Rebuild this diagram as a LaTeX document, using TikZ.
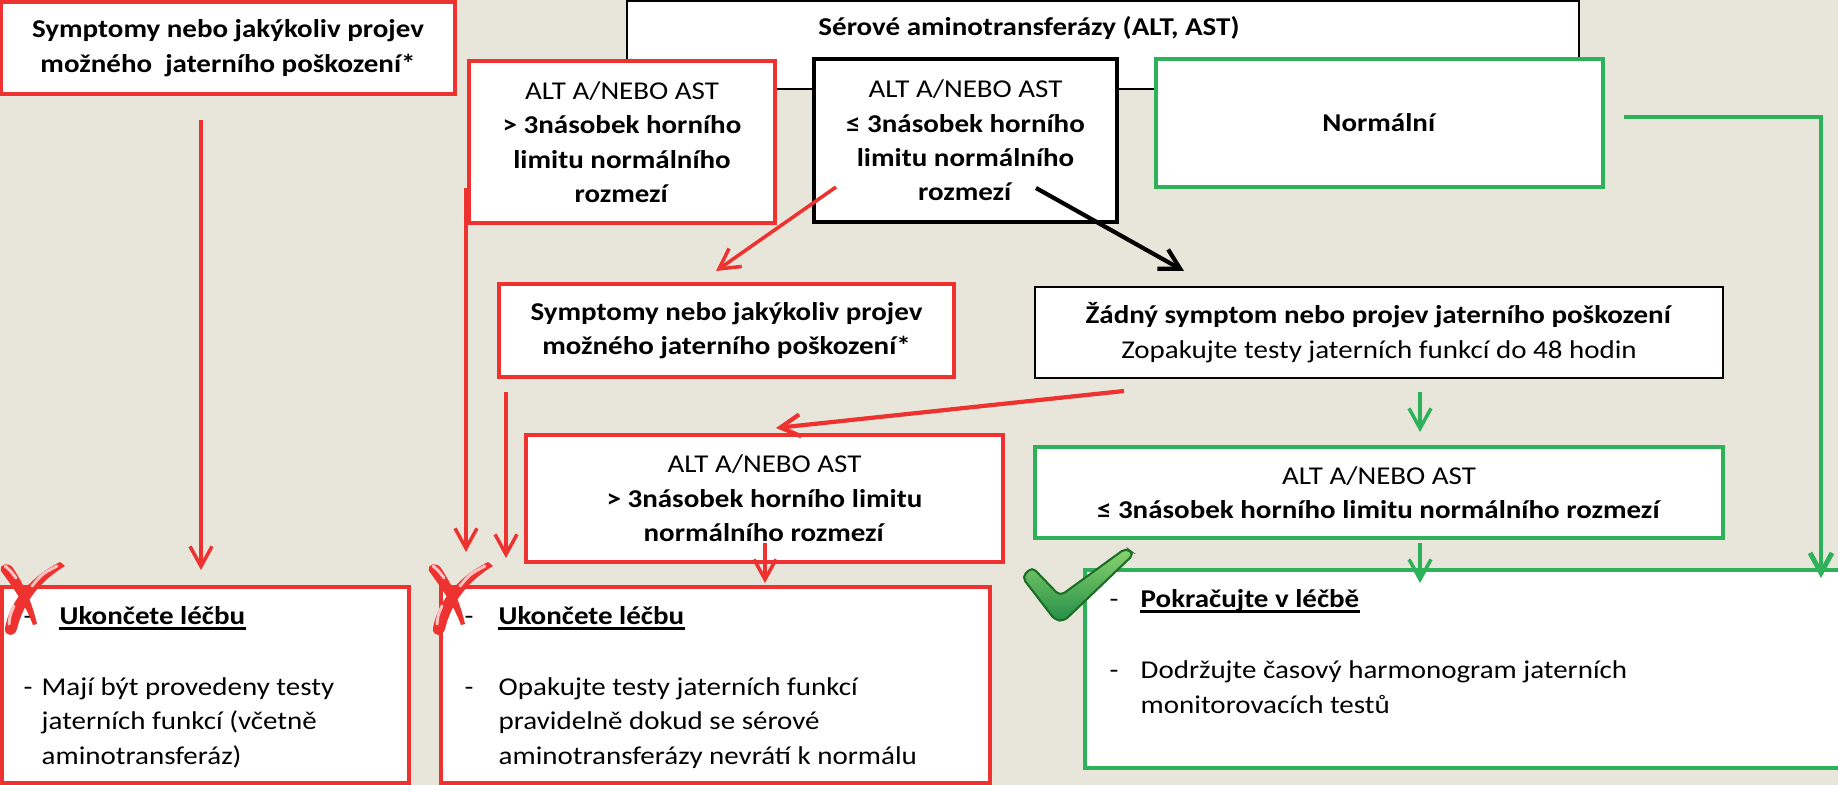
\documentclass[tikz,border=0pt]{standalone}
\usepackage{fontspec}
\setmainfont{Carlito}[FakeStretch=1.13]
\usetikzlibrary{arrows.meta,positioning}
\definecolor{pagebg}{RGB}{232,230,218}
\definecolor{stopred}{RGB}{237,50,47}
\definecolor{okgreen}{RGB}{45,178,90}
\definecolor{tickdark}{RGB}{28,110,38}
\definecolor{ticklight}{RGB}{140,212,110}

\begin{document}
\begin{tikzpicture}[x=0.1mm, y=-0.1mm, font=\fontsize{7.3}{9.8}\selectfont,
  >={Straight Barb[length=2mm,width=2.2mm]},
  rbox/.style={draw=stopred, line width=1.2pt, fill=white, align=center, inner sep=0pt},
  gbox/.style={draw=okgreen, line width=1.2pt, fill=white, align=center, inner sep=0pt},
  kbox/.style={draw=black, line width=1.2pt, fill=white, align=center, inner sep=0pt},
  tbox/.style={draw=black, line width=0.5pt, fill=white, align=center, inner sep=0pt},
  txt/.style={anchor=base west, inner sep=0pt},
  uline/.style={line width=0.7pt},
  rarr/.style={->, stopred, line width=1pt},
  garr/.style={->, okgreen, line width=1pt}]

% --- page ---
\fill[pagebg] (0,0) rectangle (1838,785);
\useasboundingbox (0,0) rectangle (1838,785);

% --- top row ---
\node[tbox, minimum width=95.2mm, minimum height=8.8mm] (ser) at (1103,45) {};
\node[font=\fontsize{7.3}{9.8}\selectfont\bfseries] (serlbl) at (1029,28) {Sérové aminotransferázy (ALT, AST)};
\node[rbox, minimum width=45.4mm, minimum height=9.2mm] (sym1) at (228,48)
  {\textbf{Symptomy nebo jakýkoliv projev}\\\textbf{možného\ \ jaterního poškození*}};
\node[rbox, minimum width=30.6mm, minimum height=16.2mm] (hi1) at (622,142)
  {ALT A/NEBO AST\\\textbf{> 3násobek horního}\\\textbf{limitu normálního}\\\textbf{rozmezí}};
\node[kbox, minimum width=30.3mm, minimum height=16.3mm] (lo1) at (965.5,140.5)
  {ALT A/NEBO AST\\\textbf{≤ 3násobek horního}\\\textbf{limitu normálního}\\\textbf{rozmezí}};
\node[gbox, minimum width=44.7mm, minimum height=12.8mm] (norm) at (1379.5,123) {\textbf{Normální}};

% --- middle row ---
\node[rbox, minimum width=45.5mm, minimum height=9.3mm] (sym2) at (726.5,330.5)
  {\textbf{Symptomy nebo jakýkoliv projev}\\\textbf{možného jaterního poškození*}};
\node[tbox, line width=0.7pt, minimum width=68.8mm, minimum height=9.1mm] (none) at (1379,332.5)
  {\textbf{Žádný symptom nebo projev jaterního poškození}\\Zopakujte testy jaterních funkcí do 48 hodin};
\node[rbox, minimum width=47.7mm, minimum height=12.7mm] (hi2) at (764.5,498.5)
  {ALT A/NEBO AST\\\textbf{> 3násobek horního limitu}\\\textbf{normálního rozmezí}};
\node[gbox, minimum width=68.8mm, minimum height=9.1mm] (lo2) at (1379,492.5)
  {ALT A/NEBO AST\\\textbf{≤ 3násobek horního limitu normálního rozmezí}};

% --- outcomes ---
\node[rbox, minimum width=40.7mm, minimum height=19.6mm] (stop1) at (205.5,685) {};
\node[txt] (stop1d) at (23,624) {-};
\node[txt] (stop1h) at (59,624) {\textbf{Ukončete léčbu}};
\draw[uline] ([yshift=-0.45mm]stop1h.base west) -- ([yshift=-0.45mm]stop1h.base east);
\node[txt] (stop1e) at (23,695) {-};
\node[txt, align=left] (stop1t) at (41,764) {Mají být provedeny testy\\jaterních funkcí (včetně\\aminotransferáz)};

\node[rbox, minimum width=54.9mm, minimum height=19.6mm] (stop2) at (715.5,685) {};
\node[txt] (stop2d) at (464,624) {-};
\node[txt] (stop2h) at (498,624) {\textbf{Ukončete léčbu}};
\draw[uline] ([yshift=-0.45mm]stop2h.base west) -- ([yshift=-0.45mm]stop2h.base east);
\node[txt] (stop2e) at (464,695) {-};
\node[txt, align=left] (stop2t) at (498,764) {Opakujte testy jaterních funkcí\\pravidelně dokud se sérové\\aminotransferázy nevrátí k normálu};

\node[gbox, minimum width=76mm, minimum height=19.8mm] (cont) at (1465,669) {};
\node[txt] (contd) at (1109,607) {-};
\node[txt] (conth) at (1140,607) {\textbf{Pokračujte v léčbě}};
\draw[uline] ([yshift=-0.45mm]conth.base west) -- ([yshift=-0.45mm]conth.base east);
\node[txt] (conte) at (1109,678) {-};
\node[txt, align=left] (contt) at (1140,713) {Dodržujte časový harmonogram jaterních\\monitorovacích testů};

% --- connectors ---
\coordinate (sym1out) at (201,120);  \coordinate (stop1in) at (201,570);
\coordinate (hi1out) at (466,188);   \coordinate (stop2inA) at (466,552);
\coordinate (sym2out) at (506,392);  \coordinate (stop2inB) at (506,558);
\coordinate (lo1outL) at (836,187);  \coordinate (sym2in) at (716,271);
\coordinate (lo1outR) at (1036,188); \coordinate (nonein) at (1184,271);
\coordinate (noneoutL) at (1124,391); \coordinate (hi2in) at (776,428);
\coordinate (hi2out) at (765,543);   \coordinate (stop2inC) at (765,583);
\coordinate (noneout) at (1420,392); \coordinate (lo2in) at (1420,432);
\coordinate (lo2out) at (1420,543);  \coordinate (continA) at (1420,583);
\coordinate (normout) at (1624,117); \coordinate (continB) at (1821,578);

\draw[rarr] (sym1out) -- (stop1in);
\draw[rarr] (hi1out) -- (stop2inA);
\draw[rarr] (sym2out) -- (stop2inB);
\draw[rarr] (lo1outL) -- (sym2in);
\draw[->, black, line width=1.2pt] (lo1outR) -- (nonein);
\draw[rarr, line width=1.2pt] (noneoutL) -- (hi2in);
\draw[rarr] (hi2out) -- (stop2inC);
\draw[garr] (noneout) -- (lo2in);
\draw[garr] (lo2out) -- (continA);
\draw[garr, line width=1.4pt] (normout) -| (continB);

% --- marks ---
\foreach \dx in {0,428}{
  \begin{scope}[xshift=\dx*0.1mm]
    % arm from the upper left
    \fill[stopred] (1,571) .. controls (-1,563) and (9,562) .. (13,568)
      .. controls (24,585) and (32,602) .. (37,624) -- (33,625)
      .. controls (26,606) and (15,590) .. cycle;
    % arm from the upper right
    \fill[stopred] (60,562) -- (65,566) .. controls (42,580) and (24,600) .. (17,629)
      .. controls (15,637) and (4,637) .. (5,628) .. controls (10,600) and (32,576) .. cycle;
    \draw[stopred!30!white, line width=0.3mm, line cap=round] (5,566) .. controls (10,570) .. (16,578);
    \draw[stopred!30!white, line width=0.3mm, line cap=round] (57,566) .. controls (42,574) .. (32,586);
    \draw[stopred!30!white, line width=0.3mm, line cap=round] (14,606) .. controls (10,615) .. (9,624);
  \end{scope}
}
\shade[top color=ticklight, bottom color=okgreen!80!black, draw=tickdark, line width=0.6pt, rounded corners=1.5pt]
  (1022,577) -- (1032,567) -- (1060,596) -- (1126,548) -- (1134,554) -- (1064,621) -- (1055,620) -- cycle;
\end{tikzpicture}
\end{document}
